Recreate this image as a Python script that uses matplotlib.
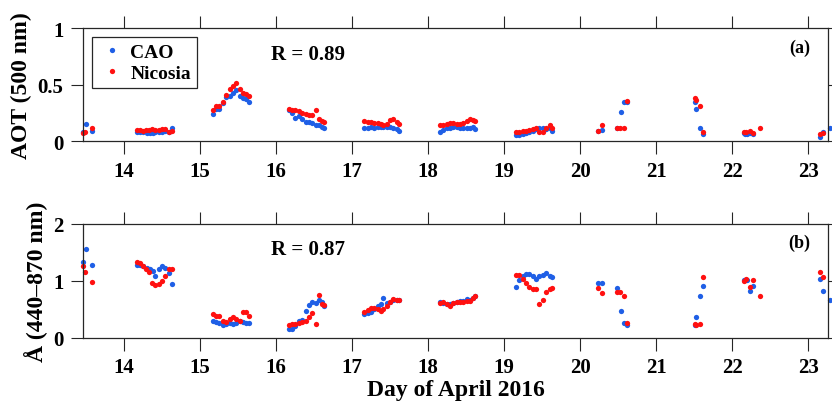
import numpy as np
import matplotlib
matplotlib.use('Agg')
import matplotlib.pyplot as plt

plt.rcParams['font.family'] = ['Liberation Serif', 'DejaVu Serif']
plt.rcParams['font.weight'] = 'bold'
plt.rcParams['axes.labelweight'] = 'bold'

# --- Data ---
cao_day = [13.46, 13.50, 13.58,
           14.17, 14.21, 14.25, 14.30, 14.34, 14.38, 14.41, 14.46, 14.50, 14.54, 14.59, 14.63,
           15.17, 15.21, 15.25, 15.30, 15.34, 15.39, 15.43, 15.47, 15.53, 15.57, 15.61, 15.64,
           16.17, 16.21, 16.25, 16.30, 16.34, 16.39, 16.43, 16.47, 16.52, 16.56, 16.61, 16.63,
           17.16, 17.21, 17.25, 17.29, 17.34, 17.38, 17.41, 17.46, 17.50, 17.54, 17.59, 17.62,
           18.16, 18.20, 18.25, 18.29, 18.33, 18.38, 18.42, 18.46, 18.51, 18.55, 18.59, 18.62,
           19.16, 19.20, 19.25, 19.29, 19.33, 19.38, 19.42, 19.46, 19.51, 19.55, 19.60, 19.63,
           20.24, 20.29, 20.49, 20.54, 20.57, 20.61,
           21.51, 21.53, 21.57, 21.61,
           22.15, 22.17, 22.20, 22.24, 22.27,
           23.15, 23.19, 23.28]
cao_aot = [0.08, 0.15, 0.09,
           0.085, 0.085, 0.08, 0.075, 0.075, 0.07, 0.08, 0.08, 0.085, 0.09, 0.08, 0.12,
           0.24, 0.29, 0.29, 0.34, 0.39, 0.40, 0.43, 0.45, 0.40, 0.38, 0.37, 0.35,
           0.28, 0.25, 0.21, 0.22, 0.20, 0.17, 0.17, 0.16, 0.14, 0.14, 0.13, 0.12,
           0.12, 0.12, 0.125, 0.12, 0.13, 0.13, 0.13, 0.13, 0.125, 0.12, 0.11, 0.09,
           0.085, 0.10, 0.115, 0.12, 0.13, 0.13, 0.12, 0.12, 0.115, 0.115, 0.13, 0.11,
           0.056, 0.06, 0.065, 0.07, 0.08, 0.09, 0.11, 0.12, 0.12, 0.11, 0.115, 0.09,
           0.094, 0.10, 0.115, 0.26, 0.345, 0.35,
           0.345, 0.29, 0.115, 0.065,
           0.073, 0.065, 0.065, 0.073, 0.065,
           0.04, 0.085, 0.115]
cao_ae = [1.34, 1.56, 1.28,
          1.28, 1.28, 1.26, 1.22, 1.21, 1.17, 1.09, 1.20, 1.26, 1.22, 1.14, 0.95,
          0.30, 0.27, 0.26, 0.22, 0.24, 0.26, 0.24, 0.25, 0.30, 0.27, 0.25, 0.25,
          0.15, 0.16, 0.21, 0.30, 0.32, 0.47, 0.58, 0.62, 0.61, 0.67, 0.63, 0.56,
          0.42, 0.43, 0.45, 0.50, 0.56, 0.59, 0.69, 0.61, 0.63, 0.67, 0.67, 0.67,
          0.62, 0.61, 0.59, 0.59, 0.61, 0.63, 0.65, 0.65, 0.68, 0.67, 0.69, 0.74,
          0.90, 1.02, 1.09, 1.12, 1.12, 1.09, 1.04, 1.08, 1.10, 1.14, 1.08, 1.06,
          0.96, 0.96, 0.87, 0.47, 0.26, 0.23,
          0.22, 0.36, 0.73, 0.91,
          1.01, 1.01, 1.02, 0.83, 0.91,
          1.04, 0.83, 0.67]

nic_day = [13.46, 13.49, 13.58,
           14.17, 14.21, 14.25, 14.29, 14.33, 14.37, 14.41, 14.46, 14.50, 14.54, 14.59, 14.63,
           15.17, 15.21, 15.25, 15.30, 15.34, 15.39, 15.43, 15.47, 15.53, 15.57, 15.61, 15.64,
           16.17, 16.21, 16.25, 16.30, 16.34, 16.39, 16.43, 16.47, 16.52, 16.56, 16.61, 16.63,
           17.16, 17.21, 17.25, 17.29, 17.34, 17.38, 17.41, 17.46, 17.50, 17.54, 17.59, 17.62,
           18.16, 18.20, 18.25, 18.29, 18.33, 18.38, 18.42, 18.46, 18.51, 18.55, 18.59, 18.62,
           19.16, 19.20, 19.25, 19.29, 19.33, 19.38, 19.42, 19.46, 19.51, 19.55, 19.60, 19.63,
           20.24, 20.29, 20.49, 20.53, 20.57, 20.61,
           21.51, 21.53, 21.57, 21.61,
           22.15, 22.18, 22.24, 22.27, 22.36,
           23.16, 23.19]
nic_aot = [0.07, 0.08, 0.12,
           0.10, 0.10, 0.095, 0.10, 0.10, 0.11, 0.10, 0.10, 0.105, 0.11, 0.085, 0.09,
           0.28, 0.31, 0.31, 0.35, 0.41, 0.46, 0.49, 0.52, 0.46, 0.43, 0.42, 0.40,
           0.29, 0.28, 0.28, 0.27, 0.25, 0.24, 0.23, 0.23, 0.28, 0.20, 0.18, 0.17,
           0.18, 0.17, 0.17, 0.165, 0.16, 0.15, 0.14, 0.15, 0.19, 0.20, 0.17, 0.15,
           0.14, 0.14, 0.15, 0.16, 0.16, 0.15, 0.15, 0.16, 0.18, 0.20, 0.19, 0.18,
           0.085, 0.085, 0.09, 0.09, 0.10, 0.11, 0.115, 0.085, 0.08, 0.115, 0.14, 0.12,
           0.09, 0.14, 0.115, 0.115, 0.12, 0.36,
           0.38, 0.365, 0.315, 0.085,
           0.085, 0.085, 0.094, 0.073, 0.115,
           0.065, 0.073]
nic_ae = [1.26, 1.15, 0.98,
          1.34, 1.31, 1.26, 1.21, 1.16, 0.96, 0.93, 0.94, 1.00, 1.08, 1.20, 1.21,
          0.42, 0.38, 0.38, 0.30, 0.28, 0.33, 0.36, 0.33, 0.30, 0.45, 0.45, 0.38,
          0.22, 0.24, 0.24, 0.26, 0.28, 0.30, 0.36, 0.43, 0.24, 0.75, 0.59, 0.57,
          0.45, 0.49, 0.52, 0.53, 0.50, 0.47, 0.50, 0.56, 0.62, 0.68, 0.67, 0.67,
          0.61, 0.63, 0.59, 0.56, 0.61, 0.63, 0.62, 0.63, 0.65, 0.65, 0.69, 0.73,
          1.10, 1.10, 1.03, 0.96, 0.89, 0.86, 0.86, 0.59, 0.67, 0.81, 0.86, 0.87,
          0.87, 0.79, 0.81, 0.81, 0.74, 0.25,
          0.24, 0.23, 0.24, 1.06,
          1.00, 1.03, 0.89, 1.02, 0.74,
          1.15, 1.07]

x_ticks = list(range(14, 24))
r_aot = 'R = 0.89'
r_ae = 'R = 0.87'

blue = '#1f5fe6'
red = '#ff1010'
axc = '#262626'

fig = plt.figure(figsize=(8.32, 4.10), dpi=100)
W, H = 832, 410
ax1 = fig.add_axes([83 / W, 1 - 142.3 / H, 745 / W, 113 / H])
ax2 = fig.add_axes([83 / W, 1 - 338.7 / H, 745 / W, 113.7 / H])

for ax, cao_y, nic_y in [(ax1, cao_aot, nic_aot), (ax2, cao_ae, nic_ae)]:
    ax.plot(cao_day, cao_y, 'o', color=blue, ms=3.8, mew=0, label='CAO', clip_on=False)
    ax.plot(nic_day, nic_y, 'o', color=red, ms=3.8, mew=0, label='Nicosia', clip_on=False)
    ax.set_xlim(13.46, 23.26)
    ax.set_xticks(x_ticks)
    for s in ax.spines.values():
        s.set_color(axc)
        s.set_linewidth(0.9)
    ax.tick_params(axis='both', which='major', direction='out', length=9, width=0.8,
                   color=axc, labelsize=15, pad=5, top=True, right=True)

ax1.set_ylim(0, 1)
ax1.set_yticks([0, 0.5, 1])
ax1.set_yticklabels(['0', '0.5', '1'])
ax2.set_ylim(0, 2)
ax2.set_yticks([0, 1, 2])

ax1.set_ylabel('AOT (500 nm)', fontsize=17, labelpad=4)
ax2.set_ylabel('Å (440–870 nm)', fontsize=17, labelpad=4)
ax2.set_xlabel('Day of April 2016', fontsize=17, labelpad=1)

ax1.text(0.252, 0.77, r_aot, transform=ax1.transAxes, fontsize=15, fontweight='bold', va='center')
ax2.text(0.252, 0.78, r_ae, transform=ax2.transAxes, fontsize=15, fontweight='bold', va='center')
ax1.text(0.976, 0.835, '(a)', transform=ax1.transAxes, fontsize=13, fontweight='bold',
         ha='right', va='center')
ax2.text(0.976, 0.84, '(b)', transform=ax2.transAxes, fontsize=13, fontweight='bold',
         ha='right', va='center')

leg = ax1.legend(loc='upper left', bbox_to_anchor=(0.0125, 0.92), borderaxespad=0,
                 fontsize=14, fancybox=False, framealpha=1, edgecolor=axc,
                 handlelength=1.4, handletextpad=0.25, borderpad=0.3, labelspacing=0.2,
                 markerscale=1.0)
leg.get_frame().set_linewidth(0.9)
for t in leg.get_texts():
    t.set_fontweight('bold')

fig.savefig('out.png', dpi=100)
